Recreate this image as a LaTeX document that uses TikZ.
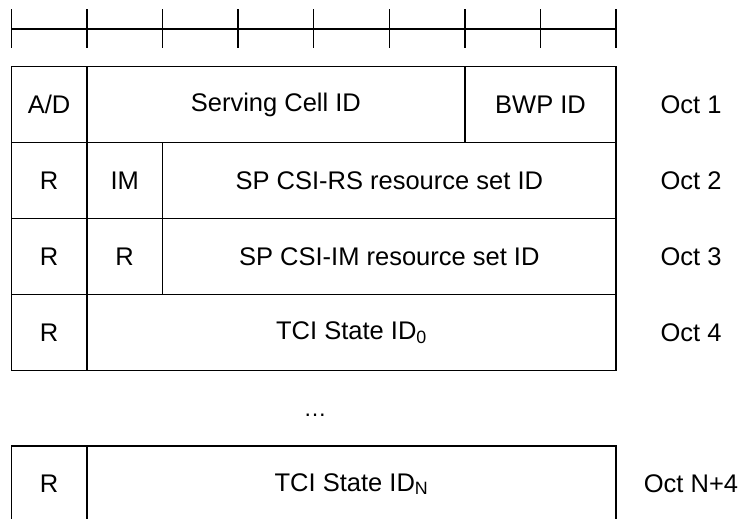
\documentclass[tikz,border=0pt]{standalone}
\usepackage{fontspec}
\setmainfont{Liberation Sans}
\begin{document}
\begin{tikzpicture}[x=1pt,y=-1pt, line width=1.3pt,
  txt/.style={font=\fontsize{25.5}{30}\selectfont},
  field/.style={draw, rectangle, inner sep=0pt, minimum height=76pt, txt},
  lbl/.style={inner sep=0pt, txt}]
\useasboundingbox (0,0) rectangle (742,519);
% ruler
\coordinate (rl) at (11.3,29);
\coordinate (rr) at (616.1,29);
\draw (rl) -- (rr);
\foreach \i in {0,...,8}{
  \draw ({11.3+75.6*\i},9.3) -- ({11.3+75.6*\i},48);
}
% Oct 1
\node[field, minimum width=75.6pt] (ad) at (49.1,104.7) {A/D};
\node[field, minimum width=378pt] (sc) at (275.9,104.7) {Serving Cell ID};
\node[field, minimum width=151.2pt] (bwp) at (540.5,104.7) {BWP ID};
\node[lbl] (o1) at (691,104.7) {Oct 1};
% Oct 2
\node[field, minimum width=75.6pt] (r2a) at (49.1,180.7) {R};
\node[field, minimum width=75.6pt] (im) at (124.7,180.7) {IM};
\node[field, minimum width=453.6pt] (rs) at (389.3,180.7) {SP CSI-RS resource set ID};
\node[lbl] (o2) at (691,180.7) {Oct 2};
% Oct 3
\node[field, minimum width=75.6pt] (r3a) at (49.1,256.7) {R};
\node[field, minimum width=75.6pt] (r3b) at (124.7,256.7) {R};
\node[field, minimum width=453.6pt] (imr) at (389.3,256.7) {SP CSI-IM resource set ID};
\node[lbl] (o3) at (691,256.7) {Oct 3};
% Oct 4
\node[field, minimum width=75.6pt] (r4a) at (49.1,332.7) {R};
\node[field, minimum width=529.2pt] (tci0) at (351.5,332.7) {TCI State ID\textsubscript{0}};
\node[lbl] (o4) at (691,332.7) {Oct 4};
% dots
\node[inner sep=0pt, anchor=base, font=\fontsize{23}{26}\selectfont] (dots) at (315,416.5) {…};
% Oct N+4
\node[field, minimum width=75.6pt] (r5a) at (49.1,484) {R};
\node[field, minimum width=529.2pt] (tcin) at (351.5,484) {TCI State ID\textsubscript{N}};
\node[lbl] (o5) at (691,484) {Oct N+4};
\end{tikzpicture}
\end{document}
